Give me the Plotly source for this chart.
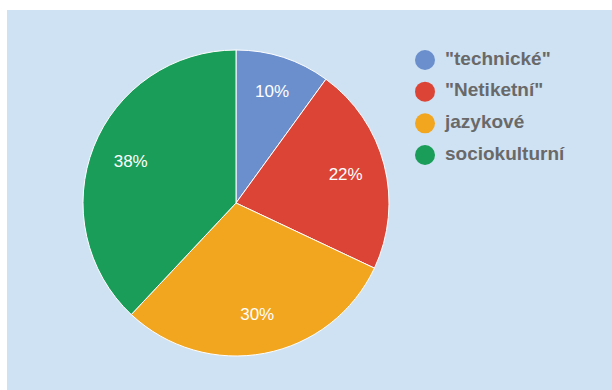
import plotly.graph_objects as go

labels = ['"technické"', '"Netiketní"', 'jazykové', 'sociokulturní']
values = [10, 22, 30, 38]
colors = ["#6b8fcd", "#dc4536", "#f2a51f", "#1a9d58"]

W, H = 612, 390
pie_domain = dict(x=[83 / W, 389 / W], y=[(H - 356) / H, (H - 50) / H])

fig = go.Figure()

# solid pie (no text)
fig.add_trace(go.Pie(
    labels=labels, values=values, sort=False, direction="clockwise", rotation=0,
    marker=dict(colors=colors, line=dict(color="#ffffff", width=1)),
    textinfo="none", domain=pie_domain,
    showlegend=False, hoverinfo="label+percent",
))
# transparent ring overlay carrying the percent labels (places them out toward the rim)
fig.add_trace(go.Pie(
    labels=labels, values=values, sort=False, direction="clockwise", rotation=0,
    hole=0.48,
    marker=dict(colors=["rgba(0,0,0,0)"] * len(values), line=dict(width=0)),
    textinfo="percent", textposition="inside", insidetextorientation="horizontal",
    textfont=dict(family="Liberation Sans", size=17, color="#ffffff"),
    domain=pie_domain, showlegend=False, hoverinfo="skip",
))

# legend drawn as markers + text on hidden axes
fig.add_trace(go.Scatter(
    x=[0] * len(labels), y=labels, mode="markers",
    marker=dict(size=20, color=colors, symbol="circle"),
    showlegend=False, hoverinfo="skip", cliponaxis=False,
))
fig.add_trace(go.Scatter(
    x=[1] * len(labels), y=labels, mode="text", text=labels,
    textposition="middle right",
    textfont=dict(family="Liberation Sans", size=19, color="#696969", weight="bold"),
    showlegend=False, hoverinfo="skip", cliponaxis=False,
))

dom_x0 = 0.65
px0 = dom_x0 * W
x_start = (px0 - 425) / 20
x_end = x_start + (W - px0) / 20

fig.update_xaxes(domain=[dom_x0, 1.0], range=[x_start, x_end], visible=False, fixedrange=True)
fig.update_yaxes(domain=[(H - 170.8) / H, (H - 44.2) / H], type="category",
                 categoryorder="array", categoryarray=labels,
                 range=[3.5, -0.5], visible=False, fixedrange=True)

fig.update_layout(
    width=W, height=H,
    margin=dict(l=0, r=0, t=0, b=0),
    paper_bgcolor="#ffffff", plot_bgcolor="rgba(0,0,0,0)",
    shapes=[dict(type="rect", xref="paper", yref="paper",
                 x0=7 / W, x1=1, y0=0, y1=(H - 10) / H,
                 fillcolor="#cfe2f3", line=dict(width=0), layer="below")],
)

fig.write_html(
    "out.html",
    config={"displayModeBar": False},
    post_script="document.body.style.margin='0';document.body.style.overflow='hidden';",
)
